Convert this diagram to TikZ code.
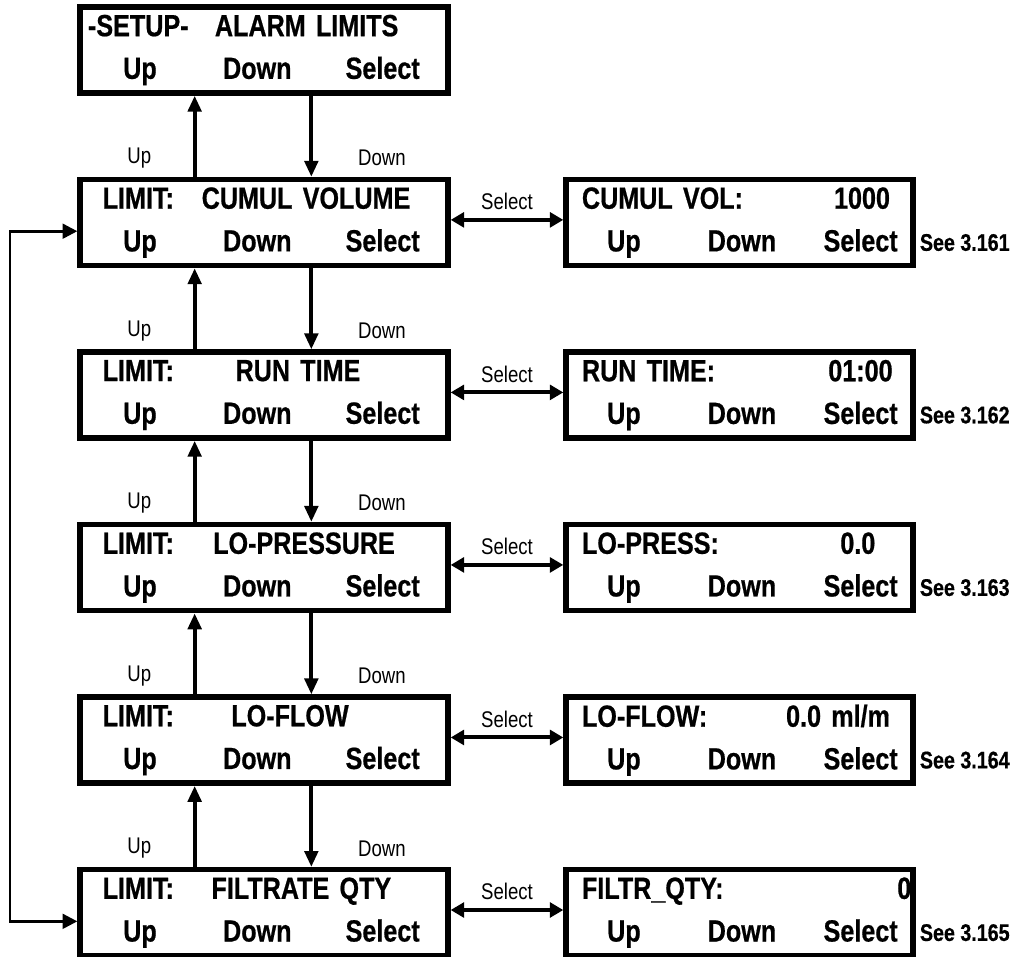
\documentclass[tikz,border=0pt]{standalone}
\usepackage{fontspec}
\usepackage{tikz}
\usetikzlibrary{arrows.meta}
\newfontfamily\lcdfont{Liberation Sans}[FakeStretch=0.82, BoldFeatures={FakeBold=0.6}]

\newcommand{\putl}[2]{\makebox[0pt][l]{\hspace*{#1}#2}}
\newcommand{\putc}[2]{\makebox[0pt][l]{\hspace*{#1}\makebox[0pt]{#2}}}
\newcommand{\putr}[2]{\makebox[0pt][l]{\hspace*{#1}\makebox[0pt][r]{#2}}}
\newcommand{\keysL}{\putc{45pt}{Up}\putc{133pt}{Down}\putc{227pt}{Select}}
\newcommand{\keysR}{\putc{43.5pt}{Up}\putc{132pt}{Down}\putc{221pt}{Select}}

\begin{document}
\begin{tikzpicture}[node distance={129.4pt},
    menu/.style = {draw, line width=4pt, minimum height=64.5pt, text width=276pt, inner sep=0pt, align=left, font=\lcdfont\bfseries\fontsize{23pt}{32pt}\selectfont},
    entry/.style = {menu, text width=260.25pt, node distance=356.6pt},
    hint/.style = {inner sep=0pt, font=\lcdfont\fontsize{17pt}{19pt}\selectfont},
    seeref/.style = {anchor=west, inner sep=0pt, font=\lcdfont\bfseries\fontsize{18pt}{20pt}\selectfont},
    link/.style = {line width=3pt, -{Triangle[length=12pt, width=10pt]}},
    both/.style = {line width=3pt, {Triangle[length=10pt, width=11pt]}-{Triangle[length=10pt, width=11pt]}}]
            \useasboundingbox (0,0) rectangle (766.5pt,-717.75pt);

            \node[menu] (setup) at (198pt,-37.5pt) {\putl{6pt}{-SETUP-}\putc{170pt}{ALARM LIMITS}\\\keysL};
            \node[menu] (cumul) [below of=setup] {\putl{17pt}{LIMIT:}\putc{169.5pt}{CUMUL VOLUME}\\\keysL};
            \node[menu] (run) [below of=cumul] {\putl{17pt}{LIMIT:}\putc{163.5pt}{RUN TIME}\\\keysL};
            \node[menu] (lopress) [below of=run] {\putl{17pt}{LIMIT:}\putc{168pt}{LO-PRESSURE}\\\keysL};
            \node[menu] (loflow) [below of=lopress] {\putl{17pt}{LIMIT:}\putc{157.5pt}{LO-FLOW}\\\keysL};
            \node[menu] (filtr) [below of=loflow] {\putl{17pt}{LIMIT:}\putc{166pt}{FILTRATE QTY}\\\keysL};

            \node[entry] (cumulval) [right of=cumul] {\putl{12pt}{CUMUL VOL:}\putr{243pt}{1000}\\\keysR};
            \node[entry] (runval) [right of=run] {\putl{12pt}{RUN TIME:}\putr{245pt}{01:00}\\\keysR};
            \node[entry] (lopressval) [right of=lopress] {\putl{12pt}{LO-PRESS:}\putr{232pt}{0.0}\\\keysR};
            \node[entry] (loflowval) [right of=loflow] {\putl{12pt}{LO-FLOW:}\putr{243pt}{0.0 ml/m}\\\keysR};
            \node[entry] (filtrval) [right of=filtr] {\putl{12pt}{FILTR\_QTY:}\putr{259pt}{0}\\\keysR};

            \node[seeref] (see1) at ([shift={(3pt,-15pt)}]cumulval.east) {See 3.161};
            \node[seeref] (see2) at ([shift={(3pt,-15pt)}]runval.east) {See 3.162};
            \node[seeref] (see3) at ([shift={(3pt,-15pt)}]lopressval.east) {See 3.163};
            \node[seeref] (see4) at ([shift={(3pt,-15pt)}]loflowval.east) {See 3.164};
            \node[seeref] (see5) at ([shift={(3pt,-15pt)}]filtrval.east) {See 3.165};

            % up / down between the menu screens
            \draw[link] ([xshift=88pt]cumul.north west) -- node[hint, pos=.23, xshift=-41.5pt] {Up} ([xshift=88pt]setup.south west);
            \draw[link] ([xshift=175.5pt]setup.south west) -- node[hint, pos=.77, xshift=53pt] {Down} ([xshift=175.5pt]cumul.north west);
            \draw[link] ([xshift=88pt]run.north west) -- node[hint, pos=.23, xshift=-41.5pt] {Up} ([xshift=88pt]cumul.south west);
            \draw[link] ([xshift=175.5pt]cumul.south west) -- node[hint, pos=.77, xshift=53pt] {Down} ([xshift=175.5pt]run.north west);
            \draw[link] ([xshift=88pt]lopress.north west) -- node[hint, pos=.23, xshift=-41.5pt] {Up} ([xshift=88pt]run.south west);
            \draw[link] ([xshift=175.5pt]run.south west) -- node[hint, pos=.77, xshift=53pt] {Down} ([xshift=175.5pt]lopress.north west);
            \draw[link] ([xshift=88pt]loflow.north west) -- node[hint, pos=.23, xshift=-41.5pt] {Up} ([xshift=88pt]lopress.south west);
            \draw[link] ([xshift=175.5pt]lopress.south west) -- node[hint, pos=.77, xshift=53pt] {Down} ([xshift=175.5pt]loflow.north west);
            \draw[link] ([xshift=88pt]filtr.north west) -- node[hint, pos=.23, xshift=-41.5pt] {Up} ([xshift=88pt]loflow.south west);
            \draw[link] ([xshift=175.5pt]loflow.south west) -- node[hint, pos=.77, xshift=53pt] {Down} ([xshift=175.5pt]filtr.north west);

            % select to the value screens
            \draw[both] ([yshift=2pt]cumul.east) -- node[hint, above=6pt] {Select} ([yshift=2pt]cumulval.west);
            \draw[both] ([yshift=2pt]run.east) -- node[hint, above=6pt] {Select} ([yshift=2pt]runval.west);
            \draw[both] ([yshift=2pt]lopress.east) -- node[hint, above=6pt] {Select} ([yshift=2pt]lopressval.west);
            \draw[both] ([yshift=2pt]loflow.east) -- node[hint, above=6pt] {Select} ([yshift=2pt]loflowval.west);
            \draw[both] ([yshift=2pt]filtr.east) -- node[hint, above=6pt] {Select} ([yshift=2pt]filtrval.west);

            % wrap around
            \coordinate (back) at (7.5pt,-400pt);
            \draw[line width=2pt, {Triangle[length=11pt, width=11pt]}-{Triangle[length=11pt, width=11pt]}] ([yshift=-6.5pt]cumul.west) -| (back) |- ([yshift=-6.5pt]filtr.west);
        \end{tikzpicture}
\end{document}
